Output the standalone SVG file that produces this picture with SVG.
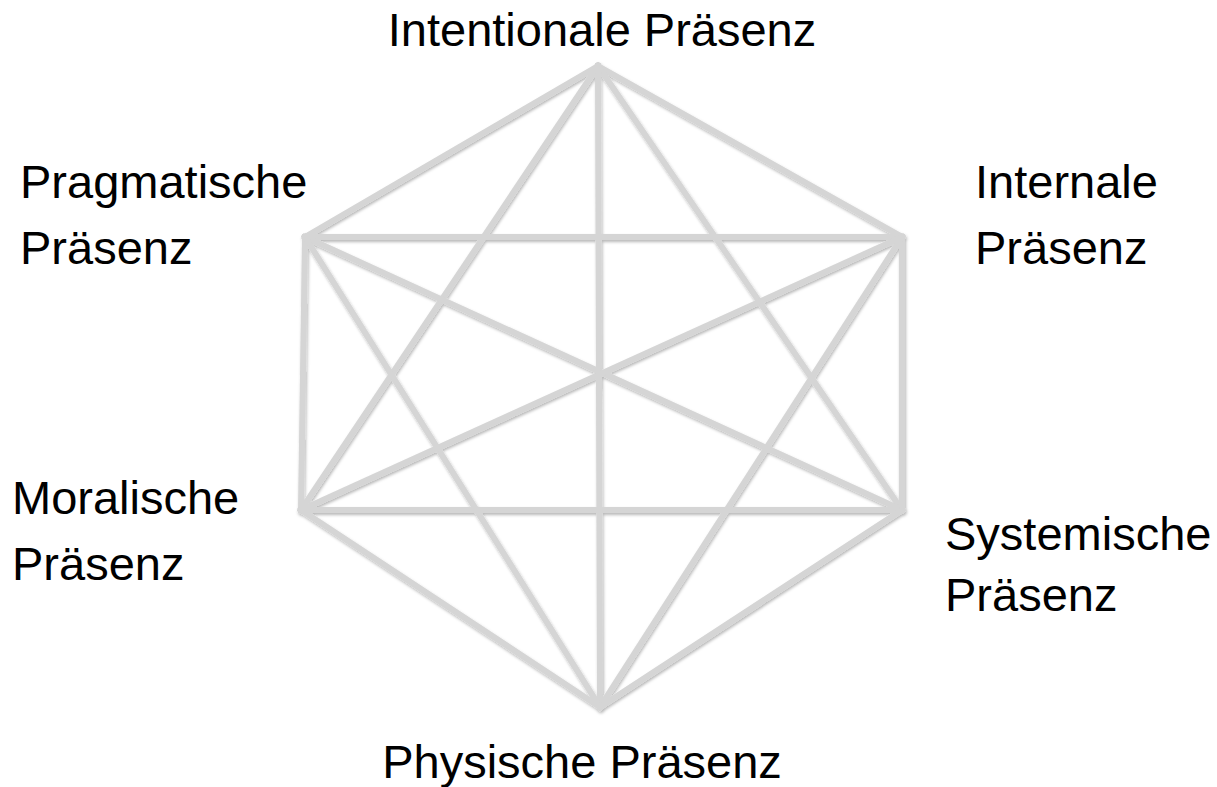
<svg xmlns="http://www.w3.org/2000/svg" width="1217" height="787" viewBox="0 0 1217 787">
<style>
.lbl{font-family:"Liberation Sans",Arial,sans-serif;font-size:47px;fill:#000}
.edge{stroke:#d5d5d5;stroke-width:6;stroke-linecap:square;fill:none}
</style>
<defs>
<filter id="sh" x="-10%" y="-10%" width="120%" height="120%">
<feDropShadow dx="1" dy="2" stdDeviation="1.8" flood-color="#000" flood-opacity="0.28"/>
</filter>
</defs>
<rect width="1217" height="787" fill="#fff"/>
<g id="connectors" filter="url(#sh)">
<line class="edge" x1="598" y1="66" x2="305" y2="237"/>
<line class="edge" x1="598" y1="66" x2="902" y2="237"/>
<line class="edge" x1="598" y1="66" x2="301" y2="510"/>
<line class="edge" x1="598" y1="66" x2="902" y2="510"/>
<line class="edge" x1="598" y1="66" x2="600" y2="707"/>
<line class="edge" x1="305" y1="237" x2="902" y2="237"/>
<line class="edge" x1="305" y1="237" x2="301" y2="510"/>
<line class="edge" x1="305" y1="237" x2="902" y2="510"/>
<line class="edge" x1="305" y1="237" x2="600" y2="707"/>
<line class="edge" x1="902" y1="237" x2="301" y2="510"/>
<line class="edge" x1="902" y1="237" x2="902" y2="510"/>
<line class="edge" x1="902" y1="237" x2="600" y2="707"/>
<line class="edge" x1="301" y1="510" x2="902" y2="510"/>
<line class="edge" x1="301" y1="510" x2="600" y2="707"/>
<line class="edge" x1="902" y1="510" x2="600" y2="707"/>
</g>
<g id="node-intentional"><text class="lbl" x="602" y="46" text-anchor="middle">Intentionale Präsenz</text></g>
<g id="node-pragmatisch"><text class="lbl" x="20" y="198">Pragmatische</text><text class="lbl" x="20" y="264">Präsenz</text></g>
<g id="node-internal"><text class="lbl" x="975" y="198">Internale</text><text class="lbl" x="975" y="264">Präsenz</text></g>
<g id="node-moralisch"><text class="lbl" x="12" y="514">Moralische</text><text class="lbl" x="12" y="580">Präsenz</text></g>
<g id="node-systemisch"><text class="lbl" x="945" y="550">Systemische</text><text class="lbl" x="945" y="611">Präsenz</text></g>
<g id="node-physisch"><text class="lbl" x="582" y="778" text-anchor="middle">Physische Präsenz</text></g>
</svg>
